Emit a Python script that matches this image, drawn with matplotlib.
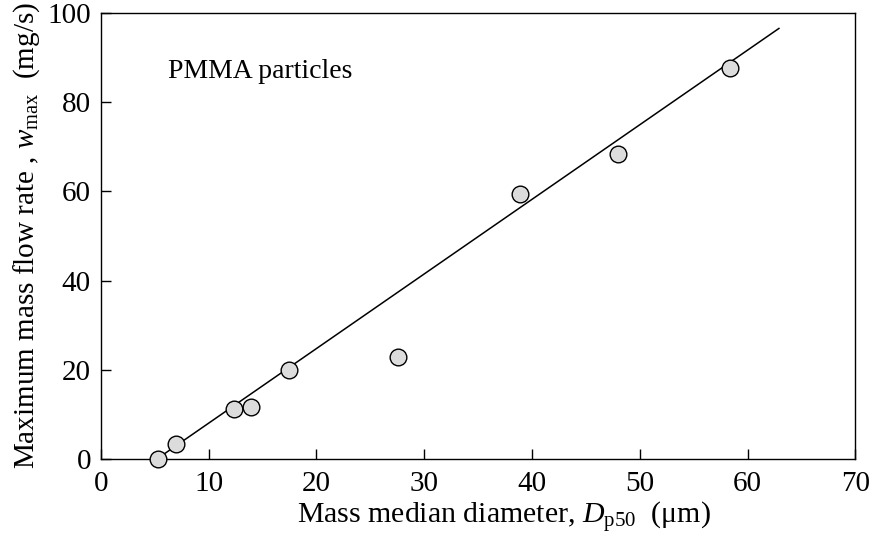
import matplotlib
matplotlib.use("Agg")
import matplotlib.pyplot as plt

plt.rcParams['font.family'] = ['Liberation Serif', 'DejaVu Serif']
plt.rcParams['mathtext.fontset'] = 'custom'
plt.rcParams['mathtext.rm'] = 'Liberation Serif'
plt.rcParams['mathtext.it'] = 'Liberation Serif:italic'

diameter = [5.3, 7.0, 12.4, 13.9, 17.5, 27.6, 38.9, 48.0, 58.4]
flow_rate = [0.0, 3.4, 11.1, 11.6, 19.9, 22.9, 59.4, 68.3, 87.8]
fit_x = [5.25, 62.9]
fit_y = [0.0, 96.6]
x_ticks = [0, 10, 20, 30, 40, 50, 60, 70]
y_ticks = [0, 20, 40, 60, 80, 100]

fig = plt.figure(figsize=(8.75, 5.42), dpi=100)
ax = fig.add_axes([0.1151, 0.1537, 0.8626, 0.8218])

ax.plot(fit_x, fit_y, color='black', lw=1.1, zorder=2)
ax.plot(diameter, flow_rate, 'o', ms=12, mfc='#dcdcdc', mec='black', mew=1.0,
        zorder=3, clip_on=False)

ax.set_xlim(0, 70)
ax.set_ylim(0, 100)
ax.set_xticks(x_ticks)
ax.set_yticks(y_ticks)
ax.tick_params(direction='in', length=7, width=1, labelsize=21)
ax.tick_params(axis='x', pad=9)
ax.tick_params(axis='y', pad=7)
for s in ax.spines.values():
    s.set_linewidth(1.0)

ax.set_xlabel(r'Mass median diameter, $D_{\mathrm{p50}}$  (μm)', fontsize=21.5)
ax.xaxis.set_label_coords(0.534, -0.092)
ax.set_ylabel(r'Maximum mass flow rate , $w_{\mathrm{max}}$  (mg/s)', fontsize=21, labelpad=4)
ax.text(6.2, 87.0, 'PMMA particles', fontsize=20, va='center', ha='left')

fig.savefig('out.png', dpi=100)
